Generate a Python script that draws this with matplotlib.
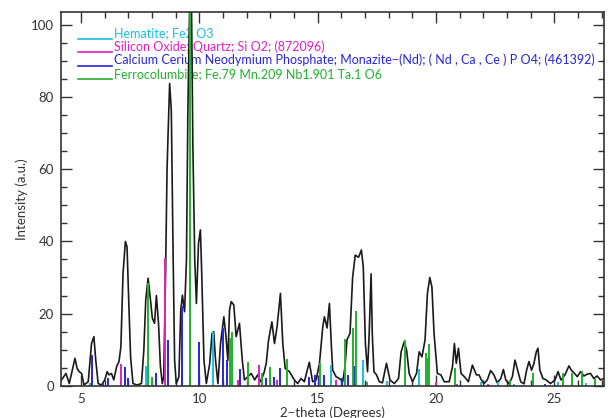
import matplotlib.pyplot as plt
from matplotlib.ticker import MultipleLocator

plt.rcParams['font.family'] = ['Lato', 'DejaVu Sans']

# measured pattern (2-theta in degrees, intensity in a.u.)
two_theta = [4.12, 4.37, 4.51, 4.75, 4.84, 4.93, 5.03, 5.13, 5.31, 5.45, 5.55, 5.63, 5.73, 5.87,
             6.01, 6.11, 6.19, 6.29, 6.39, 6.51, 6.61, 6.69, 6.78, 6.88, 6.95, 7.02, 7.10, 7.20,
             7.37, 7.56, 7.66, 7.74, 7.84, 7.94, 8.02, 8.11, 8.19, 8.28, 8.36, 8.44, 8.50, 8.58,
             8.64, 8.68, 8.75, 8.82, 8.89, 8.96, 9.03, 9.14, 9.22, 9.29, 9.38, 9.46, 9.52, 9.60,
             9.67, 9.73, 9.81, 9.88, 9.97, 10.05, 10.11, 10.20, 10.30, 10.44, 10.54, 10.61, 10.69,
             10.79, 10.90, 10.97, 11.04, 11.13, 11.21, 11.28, 11.35, 11.46, 11.56, 11.70, 11.82,
             11.91, 12.05, 12.20, 12.34, 12.47, 12.59, 12.73, 12.83, 12.93, 13.07, 13.18, 13.29,
             13.43, 13.53, 13.63, 13.81, 14.02, 14.16, 14.30, 14.44, 14.65, 14.79, 14.94, 15.08,
             15.22, 15.29, 15.40, 15.50, 15.59, 15.64, 15.78, 15.92, 16.06, 16.16, 16.24, 16.37,
             16.48, 16.59, 16.73, 16.85, 16.93, 17.02, 17.11, 17.18, 17.26, 17.31, 17.38, 17.49,
             17.61, 17.74, 17.91, 18.06, 18.24, 18.42, 18.53, 18.66, 18.76, 18.87, 19.01, 19.18,
             19.29, 19.41, 19.54, 19.64, 19.74, 19.83, 19.92, 20.06, 20.21, 20.35, 20.56, 20.70,
             20.78, 20.86, 20.95, 21.06, 21.20, 21.37, 21.54, 21.71, 21.82, 21.92, 22.03, 22.17,
             22.31, 22.45, 22.59, 22.74, 22.85, 22.95, 23.09, 23.23, 23.34, 23.45, 23.58, 23.72,
             23.83, 23.93, 24.04, 24.14, 24.24, 24.31, 24.39, 24.52, 24.66, 24.84, 25.03, 25.16,
             25.28, 25.45, 25.54, 25.62, 25.73, 25.83, 25.97, 26.11, 26.25, 26.39, 26.53, 26.67,
             26.81, 26.95, 27.09]
intensity = [1.0, 3.4, 0.6, 7.6, 4.8, 3.9, 3.4, 0.2, 1.1, 11.7, 13.6, 7.0, 0.6, 0.2,
             1.6, 3.9, 3.0, 3.4, 1.6, 5.3, 6.7, 10.8, 31.0, 40.0, 38.5, 23.8, 8.0, 0.6,
             0.2, 0.6, 9.9, 23.8, 29.8, 23.8, 18.7, 17.3, 25.0, 17.3, 5.3, 0.6, 2.5, 32.0,
             59.8, 69.0, 83.8, 76.4, 39.5, 7.0, 0.6, 2.5, 21.0, 25.1, 20.5, 34.8, 76.0, 108.0,
             108.0, 67.0, 35.0, 22.8, 39.5, 43.2, 30.0, 7.0, 0.6, 6.0, 14.5, 15.0, 7.0,
             0.6, 11.7, 15.4, 19.1, 13.6, 7.0, 21.0, 23.3, 22.4, 13.6, 17.3, 7.0,
             1.6, 2.5, 3.4, 1.6, 3.0, 1.1, 3.4, 6.2, 12.7, 17.7, 11.7, 16.4,
             25.6, 11.7, 4.8, 3.9, 1.6, 0.6, 2.0, 1.1, 6.5, 1.1, 1.6, 6.2,
             16.4, 19.1, 16.0, 22.8, 10.0, 4.3, 2.5, 2.0, 1.1, 5.3, 12.7, 14.5,
             30.0, 36.2, 35.6, 37.6, 33.0, 11.7, 3.9, 14.5, 31.0, 14.5, 3.9, 3.0,
             1.1, 0.8, 6.2, 1.6, 0.6, 2.0, 9.4, 12.2, 9.9, 3.4, 1.1, 3.4,
             9.4, 8.0, 12.7, 25.6, 30.0, 27.4, 14.5, 3.4, 3.0, 1.1, 1.1, 5.3,
             11.7, 6.2, 10.4, 3.4, 2.5, 1.1, 5.7, 3.0, 3.0, 1.6, 0.6, 1.6,
             4.2, 3.0, 0.8, 2.0, 4.5, 1.6, 0.5, 2.5, 7.1, 4.3, 1.1, 0.5,
             4.3, 6.7, 4.3, 6.2, 9.4, 10.4, 4.3, 2.0, 1.6, 0.6, 1.6, 3.9,
             1.6, 3.0, 4.3, 5.5, 4.2, 3.6, 2.5, 3.9, 2.7, 3.2, 3.4, 2.0,
             2.7, 1.6, 2.0]

# reference stick patterns
hematite_pos = [7.77, 10.58, 15.57, 16.90, 17.93, 19.29, 21.90, 22.64, 23.30, 25.16, 26.35]
hematite_int = [5.6, 15.0, 5.8, 7.0, 1.3, 4.7, 1.1, 1.1, 0.6, 1.1, 0.8]

quartz_pos = [6.71, 8.56, 11.64, 12.52, 13.28, 15.77, 19.99, 20.91, 22.20]
quartz_int = [5.9, 35.5, 1.6, 5.8, 1.6, 1.6, 1.0, 0.6, 0.5]

monazite_pos = [5.49, 5.95, 6.13, 6.87, 7.00, 8.19, 8.68, 9.26, 9.60, 10.00, 11.00, 11.17,
                11.74, 12.80, 13.14, 13.42, 14.63, 14.89, 15.08, 15.29, 16.03, 16.30, 16.55, 24.60]
monazite_int = [8.4, 0.8, 2.0, 5.2, 2.0, 3.4, 12.7, 22.0, 3.0, 12.2, 15.9, 7.1,
                4.5, 2.0, 2.5, 4.8, 2.3, 3.0, 2.0, 3.0, 2.0, 3.0, 5.6, 0.5]

ferro_pos = [5.38, 7.82, 8.02, 9.63, 11.28, 11.39, 12.05, 12.64, 12.97, 13.72, 15.12, 16.16,
             16.51, 16.64, 17.08, 18.68, 19.58, 19.67, 19.72, 20.79, 23.12, 24.11, 25.36, 25.75,
             26.18, 26.74]
ferro_int = [0.7, 28.4, 2.5, 105.0, 13.3, 15.0, 6.5, 3.4, 5.3, 7.4, 6.2, 13.0,
             15.9, 20.8, 1.0, 12.7, 9.0, 7.6, 11.5, 4.8, 1.6, 3.4, 3.4, 3.4,
             4.2, 1.8]

labels = ['Hematite; Fe2 O3',
          'Silicon Oxide; Quartz; Si O2; (872096)',
          'Calcium Cerium Neodymium Phosphate; Monazite\u2212(Nd); ( Nd , Ca , Ce ) P O4; (461392)',
          'Ferrocolumbite; Fe.79 Mn.209 Nb1.901 Ta.1 O6']
colors = ['#18c0e0', '#e020c0', '#2626d8', '#22b02e']


def main():
    fig = plt.figure(figsize=(6.11, 4.18), dpi=100)
    ax = fig.add_axes([61 / 611, 1 - 385.7 / 418, 543 / 611, 373.7 / 418])

    ax.plot(two_theta, intensity, color='#1a1a1a', lw=1.2, zorder=2)
    phases = [(hematite_pos, hematite_int), (quartz_pos, quartz_int),
              (monazite_pos, monazite_int), (ferro_pos, ferro_int)]
    for (pos, hgt), col in zip(phases, colors):
        ax.vlines(pos, 0, hgt, colors=col, lw=1.4, zorder=2.5)

    ax.set_xlim(4.16, 27.1)
    ax.set_ylim(0, 103.6)
    ax.xaxis.set_major_locator(MultipleLocator(5))
    ax.xaxis.set_minor_locator(MultipleLocator(1))
    ax.yaxis.set_major_locator(MultipleLocator(20))
    ax.yaxis.set_minor_locator(MultipleLocator(5))
    ax.tick_params(which='both', direction='in', top=True, right=True,
                   colors='#333333', labelsize=9.5, width=1.0)
    ax.tick_params(which='major', length=8, pad=5)
    ax.tick_params(which='minor', length=4.5)
    for sp in ax.spines.values():
        sp.set_color('#333333')
        sp.set_linewidth(1.2)

    # legend drawn by hand, IDL style: short line at text baseline
    for i, (lab, col) in enumerate(zip(labels, colors)):
        y_txt = 1 - (33 + 13.6 * i - 12) / 373.7
        y_line = y_txt - 5.5 / 373.7
        ax.plot([0.031, 0.094], [y_line, y_line], color=col, lw=1.2,
                transform=ax.transAxes, clip_on=False, zorder=1.5)
        ax.text(0.0976, y_txt, lab, color=col, fontsize=9.0, va='center', ha='left',
                transform=ax.transAxes, zorder=1.5, clip_on=False)

    fig.text(332.5 / 611, 1 - 413 / 418, '2\u2212theta (Degrees)', ha='center', va='center',
             fontsize=9.5, color='#333333')
    fig.text(22 / 611, 1 - 199 / 418, 'Intensity (a.u.)', ha='center', va='center',
             rotation=90, fontsize=9.5, color='#333333')

    fig.savefig('out.png', dpi=100)


if __name__ == '__main__':
    main()
